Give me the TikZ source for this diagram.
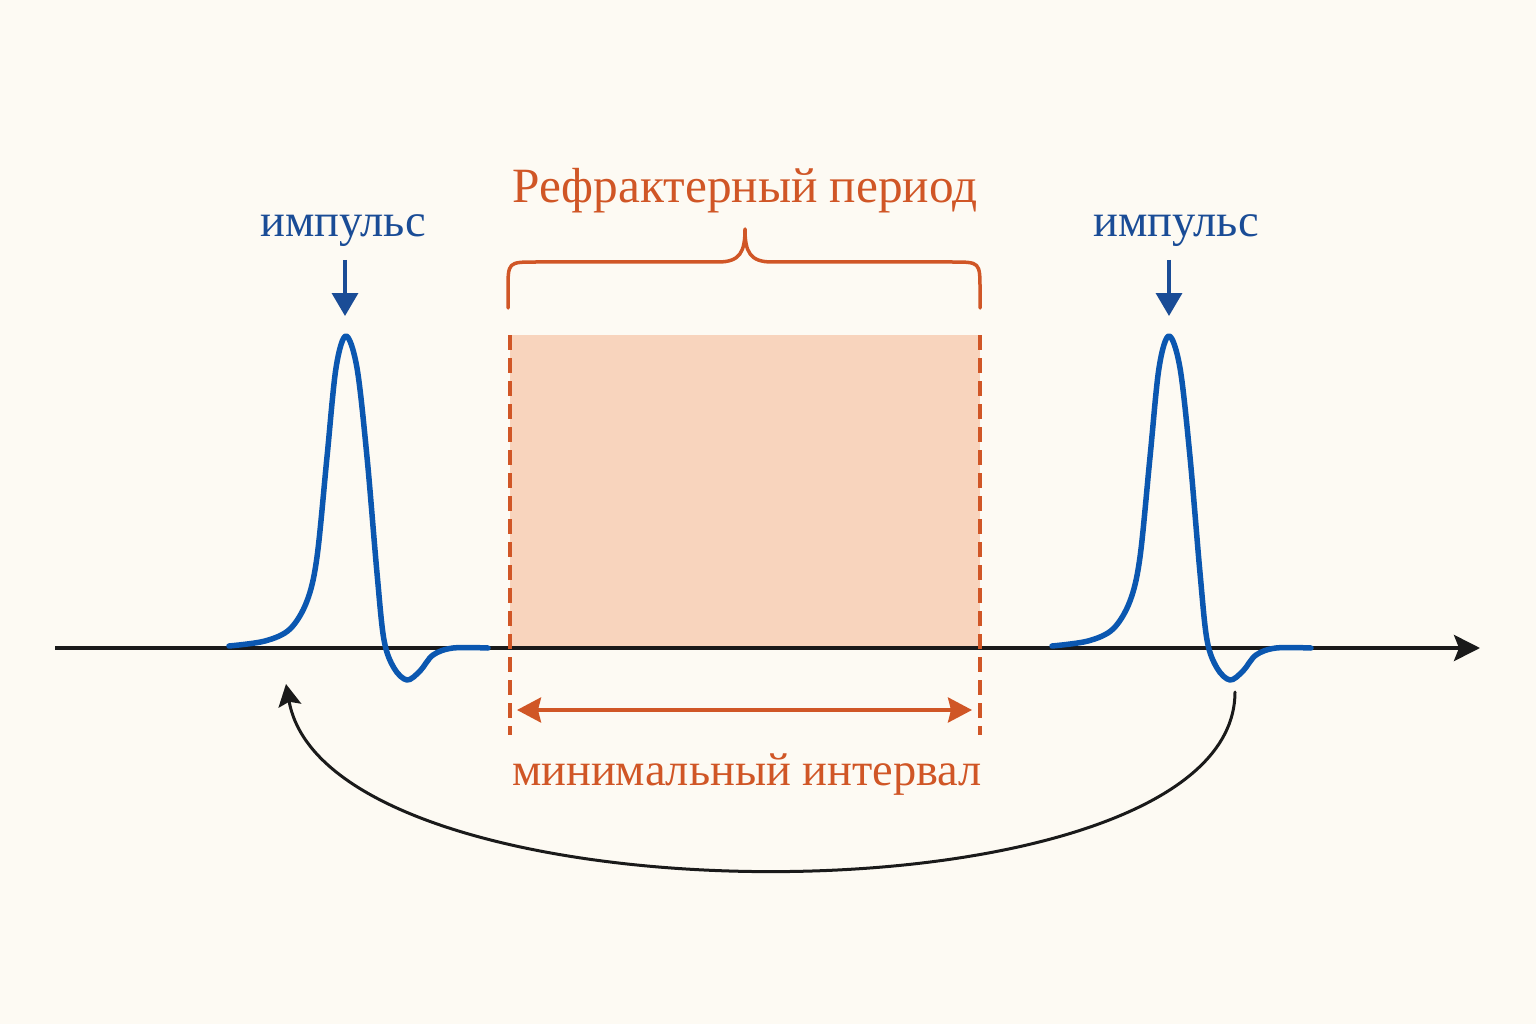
\documentclass[tikz,border=0pt]{standalone}
\usepackage{fontspec}
\setmainfont{Liberation Serif}
\usetikzlibrary{arrows.meta}
\definecolor{bg}{HTML}{FDFAF3}
\definecolor{pulseblue}{HTML}{0B57B0}
\definecolor{textblue}{HTML}{1A4C96}
\definecolor{rorange}{HTML}{D05626}
\definecolor{rfill}{HTML}{F8D4BD}
\definecolor{axisblack}{HTML}{1A1A1A}
\begin{document}
\begin{tikzpicture}[x=1pt,y=-1pt,
  axisline/.style={line width=4pt, draw=axisblack, -{Stealth[length=26pt,width=26pt,inset=5pt]}},
  pulse/.style={line width=5.5pt, draw=pulseblue, line cap=round, line join=round},
  implabel/.style={text=textblue, font=\fontsize{46.5}{52}\selectfont, inner sep=0pt, anchor=base},
  orlabel/.style={text=rorange, inner sep=0pt, anchor=base},
  imparrow/.style={line width=3.5pt, draw=textblue, -{Triangle[length=23pt,width=26pt]}},
  edgedash/.style={line width=3.5pt, draw=rorange, dash pattern=on 15pt off 8pt},
  bracestyle/.style={line width=3.5pt, draw=rorange, line cap=round, line join=round},
  intervalarrow/.style={line width=3.5pt, draw=rorange, {Stealth[length=24pt,width=25pt,inset=3pt]}-{Stealth[length=24pt,width=25pt,inset=3pt]}},
  returnarrow/.style={line width=3pt, draw=axisblack, line cap=round, -{Stealth[length=22pt,width=23pt,inset=4pt]}}
]
\useasboundingbox (0,0) rectangle (1536,1024);
\fill[bg] (0,0) rectangle (1536,1024);

% refractory zone
\fill[rfill] (510,335) rectangle (980,647);

% coordinates
\coordinate (axL) at (55,648);
\coordinate (axR) at (1480,648);
\coordinate (dL1) at (510,335);
\coordinate (dL2) at (510,735);
\coordinate (dR1) at (980,335);
\coordinate (dR2) at (980,735);
\coordinate (iL) at (517,710);
\coordinate (iR) at (972,710);
\coordinate (a1s) at (345,260);
\coordinate (a1e) at (345,316);
\coordinate (a2s) at (1169,260);
\coordinate (a2e) at (1169,316);
\coordinate (retS) at (1235,692);
\coordinate (retE) at (286,684);

% axis
\draw[axisline] (axL) -- (axR);

% dashed edges
\draw[edgedash] (dL1) -- (dL2);
\draw[edgedash] (dR1) -- (dR2);

% pulses
\foreach \dx in {0,823}{
  \begin{scope}[xshift=\dx pt]
    \draw[pulse] plot[smooth, tension=0.55] coordinates {
      (229,646) (265,641) (290,629) (307,601) (317,557) (327,457) (336,368)
      (346,336) (357,368) (367,457) (377,573) (384,640) (394,668) (407,680)
      (420,671) (433,655) (453,648) (488,648)};
  \end{scope}
}

% labels
\node[implabel] (imp1) at (343,237) {импульс};
\node[implabel] (imp2) at (1176,237) {импульс};
\draw[imparrow] (a1s) -- (a1e);
\draw[imparrow] (a2s) -- (a2e);

\node[orlabel, font=\fontsize{49.3}{55}\selectfont] (title) at (745,203) {Рефрактерный период};
\node[orlabel, font=\fontsize{46.4}{52}\selectfont] (minint) at (747,785) {минимальный интервал};

% brace
\draw[bracestyle] (508,308) -- (508,290) .. controls (508,262) .. (536,262) -- (718,262)
   .. controls (740,262) and (745,252) .. (745,229)
   .. controls (745,252) and (750,262) .. (772,262) -- (952,262)
   .. controls (980,262) .. (980,290) -- (980,308);

% interval arrow
\draw[intervalarrow] (iL) -- (iR);

% return arrow
\draw[returnarrow] (retS) .. controls (1235,930) and (330,930) .. (retE);
\end{tikzpicture}
\end{document}
